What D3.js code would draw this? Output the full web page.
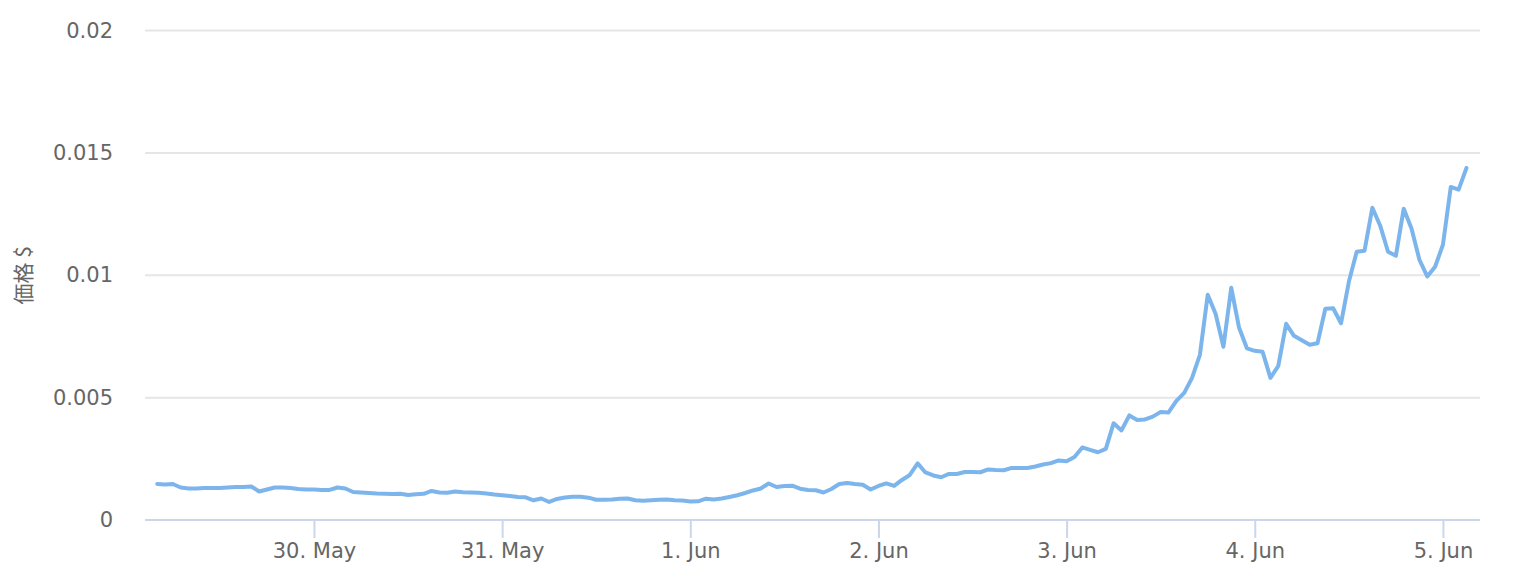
<!DOCTYPE html>
<html>
  <head>
    <meta charset="utf-8">
    <style>
      body { margin: 0; background: #fff; }
      .grid line { stroke: #e6e6e6; stroke-width: 2; }
      .axis text { fill: #666; font-family: "DejaVu Sans", sans-serif; font-size: 21px; }
      .title { fill: #666; font-family: "Noto Sans CJK JP", "DejaVu Sans", sans-serif; font-size: 21px; }
    </style>
  </head>
  <body>
    <svg width="1522" height="582"></svg>
    <script src="https://d3js.org/d3.v7.min.js"></script>
    <script>
      // hourly prices, starting 29 May 04:00 UTC
      var startTime = Date.UTC(2021, 4, 29, 4);
      var prices = [
        0.001472, 0.001452, 0.001472, 0.001329, 0.001288, 0.001288, 0.001309, 0.001309,
        0.001309, 0.001329, 0.00135, 0.00135, 0.00137, 0.001166, 0.001247, 0.001329,
        0.001329, 0.001309, 0.001268, 0.001247, 0.001247, 0.001227, 0.001227, 0.001329,
        0.001288, 0.001145, 0.001125, 0.001104, 0.001084, 0.001076, 0.001063, 0.001076,
        0.001022, 0.001055, 0.001072, 0.001186, 0.001125, 0.001117, 0.001166, 0.001133,
        0.001125, 0.001117, 0.001084, 0.001043, 0.00101, 0.000982, 0.000941, 0.000928,
        0.000806, 0.000879, 0.000736, 0.000859, 0.00092, 0.000953, 0.000953, 0.000912,
        0.000826, 0.00083, 0.000838, 0.000871, 0.000879, 0.000806, 0.000789, 0.00081,
        0.000826, 0.000838, 0.00081, 0.000798, 0.000757, 0.000765, 0.000871, 0.000838,
        0.000879, 0.000941, 0.00101, 0.001104, 0.001207, 0.001288, 0.001493, 0.00135,
        0.001391, 0.001403, 0.00128, 0.001227, 0.001215, 0.001125, 0.001268, 0.001472,
        0.001513, 0.001472, 0.00144, 0.001247, 0.001391, 0.001493, 0.001391, 0.001636,
        0.00184, 0.002311, 0.001943, 0.00182, 0.001746, 0.001881, 0.001881, 0.001963,
        0.001963, 0.001951, 0.002065, 0.002045, 0.002033, 0.002127, 0.002127, 0.002127,
        0.002188, 0.00227, 0.002323, 0.002434, 0.002401, 0.002577, 0.002965, 0.002863,
        0.002769, 0.002904, 0.003955, 0.00366, 0.004274, 0.00409, 0.00411, 0.004225,
        0.004417, 0.004397, 0.004867, 0.005194, 0.005808, 0.006748, 0.009202, 0.008425,
        0.007076, 0.009489, 0.007853, 0.007014, 0.006912, 0.006871, 0.005808, 0.006299,
        0.008016, 0.007526, 0.007342, 0.007157, 0.007219, 0.00863, 0.00865, 0.008037,
        0.009734, 0.010961, 0.011002, 0.012761, 0.012025, 0.010961, 0.010798, 0.01272,
        0.011902, 0.010634, 0.009951, 0.010348, 0.011247, 0.013607, 0.013497, 0.014384
      ];
      var yTicks = [0, 0.005, 0.01, 0.015, 0.02];
      var yTickLabels = ["0", "0.005", "0.01", "0.015", "0.02"];
      var monthNames = ["Jan", "Feb", "Mar", "Apr", "May", "Jun", "Jul", "Aug", "Sep", "Oct", "Nov", "Dec"];
      var yTitle = "価格 $";

      var data = prices.map(function(p, i) {
        return { t: new Date(startTime + i * 3600e3), v: p };
      });

      var svg = d3.select("svg");
      var plotLeft = 145, plotRight = 1480, plotTop = 30.5, plotBottom = 520;
      var day = 864e5;
      var may30 = Date.UTC(2021, 4, 30);

      var x = d3.scaleUtc()
        .domain([new Date(may30 - 0.898 * day), new Date(may30 + 6.197 * day)])
        .range([plotLeft, plotRight]);

      var y = d3.scaleLinear()
        .domain([0, 0.02])
        .range([plotBottom, plotTop]);

      // grid
      svg.append("g")
          .attr("class", "grid")
        .selectAll("line")
        .data(yTicks.slice(1))
        .enter().append("line")
          .attr("x1", plotLeft)
          .attr("x2", plotRight)
          .attr("y1", function(d) { return y(d); })
          .attr("y2", function(d) { return y(d); });

      // y axis labels
      var yAxis = svg.append("g")
          .attr("class", "axis")
          .attr("transform", "translate(113,0)")
          .call(d3.axisLeft(y).tickValues(yTicks).tickSize(0).tickPadding(0)
            .tickFormat(function(d, i) { return yTickLabels[i]; }));
      yAxis.select(".domain").remove();

      // x axis
      var xAxis = svg.append("g")
          .attr("class", "axis")
          .attr("transform", "translate(0," + plotBottom + ")")
          .call(d3.axisBottom(x).ticks(d3.utcDay.every(1)).tickSize(18).tickPadding(5)
            .tickFormat(function(d) { return d.getUTCDate() + ". " + monthNames[d.getUTCMonth()]; }));
      xAxis.select(".domain")
          .attr("d", "M" + plotLeft + ",0H" + plotRight)
          .attr("stroke", "#ccd6eb")
          .attr("stroke-width", 2);
      xAxis.selectAll(".tick line")
          .attr("stroke", "#ccd6eb")
          .attr("stroke-width", 2);

      // title
      svg.append("text")
          .attr("class", "title")
          .attr("transform", "translate(31," + ((plotTop + plotBottom) / 2) + ") rotate(-90)")
          .attr("text-anchor", "middle")
          .text(yTitle);

      // line
      var line = d3.line()
        .x(function(d) { return x(d.t); })
        .y(function(d) { return y(d.v); });

      svg.append("path")
          .datum(data)
          .attr("fill", "none")
          .attr("stroke", "#7cb5ec")
          .attr("stroke-width", 4)
          .attr("stroke-linejoin", "round")
          .attr("stroke-linecap", "round")
          .attr("d", line);
    </script>
  </body>
</html>
